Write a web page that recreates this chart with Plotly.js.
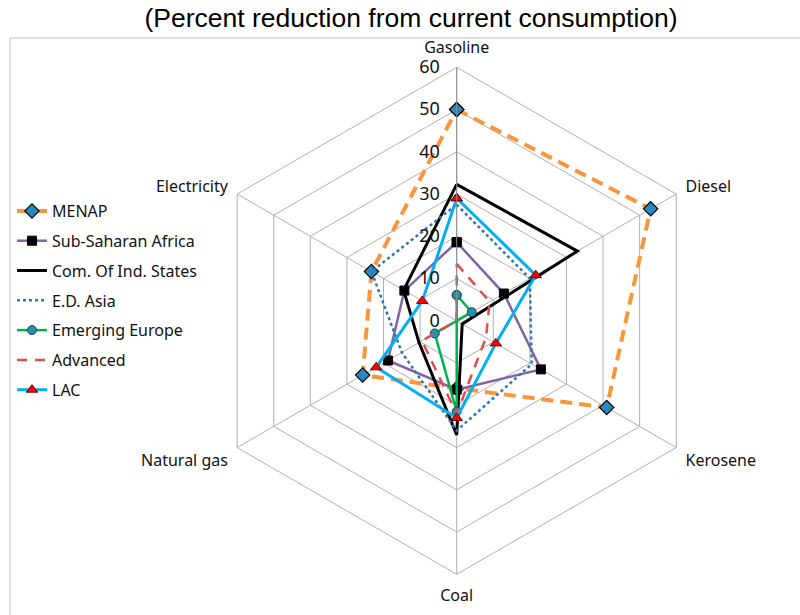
<!DOCTYPE html>
<html>
<head>
<meta charset="utf-8">
<script src="https://cdn.plot.ly/plotly-3.0.1.min.js"></script>
<style>html,body{margin:0;padding:0;background:#fff;}#chart{width:800px;height:615px;}</style>
</head>
<body>
<div id="chart"></div>
<script>
const categories = ['Gasoline', 'Diesel', 'Kerosene', 'Coal', 'Natural gas', 'Electricity'];
const radialTicks = [0, 10, 20, 30, 40, 50, 60];
const menap     = [50, 53, 41, 16, 25.7, 23.3];
const ssa       = [18.6, 12.9, 23, 16.3, 18.8, 14.3];
const cis       = [32.3, 33, 1.5, 27, 10.3, 14.5];
const edAsia    = [27.5, 20, 20.5, 26, 15, 23.3];
const emEurope  = [6.1, 4.1, 0, 21.5, 6, 0];
const advanced  = [13.5, 9, 8, 22, 9.5, 0];
const lac       = [29, 21.6, 10.7, 23, 22, 9.4];
const seriesNames = ['MENAP', 'Sub-Saharan Africa', 'Com. Of Ind. States', 'E.D. Asia', 'Emerging Europe', 'Advanced', 'LAC'];

const W = 800, H = 615;
const cx = 456.7, cy = 320.8, R = 253.5;

function closeLoop(arr) { return arr.concat([arr[0]]); }
const theta = closeLoop(categories);

function trace(name, vals, line, marker, idx) {
  const t = {
    type: 'scatterpolar',
    r: closeLoop(vals),
    theta: theta,
    name: name,
    legendgroup: 'g' + idx,
    mode: marker ? 'lines+markers' : 'lines',
    line: line
  };
  if (marker) t.marker = marker;
  return t;
}

const data = [
  trace(seriesNames[0], menap, {color: '#F7963C', width: 4, dash: '12px,7px'},
        {symbol: 'diamond', size: 11, color: '#2B87C2', line: {color: '#000', width: 1.2}}, 0),
  trace(seriesNames[1], ssa, {color: '#8064A2', width: 2.5},
        {symbol: 'square', size: 9, color: '#000', line: {color: '#000', width: 1}}, 1),
  trace(seriesNames[2], cis, {color: '#000000', width: 3}, null, 2),
  trace(seriesNames[3], edAsia, {color: '#2E75B6', width: 2.5, dash: 'dot'}, null, 3),
  trace(seriesNames[4], emEurope, {color: '#00B050', width: 2.5},
        {symbol: 'circle', size: 9, color: '#1E93AB', line: {color: '#1F3F4F', width: 1}}, 4),
  trace(seriesNames[5], advanced, {color: '#DD4D4D', width: 2.5, dash: '10px,8px'}, null, 5),
  trace(seriesNames[6], lac, {color: '#00B0F0', width: 3},
        {symbol: 'triangle-up', size: 10, color: '#FF0000', line: {color: '#6B0000', width: 1}}, 6)
];

const layout = {
  width: W, height: H,
  margin: {l: 0, r: 0, t: 0, b: 0},
  paper_bgcolor: '#fff',
  showlegend: true,
  title: {
    text: '(Percent reduction from current consumption)',
    x: 411 / W, xanchor: 'center', xref: 'paper',
    y: 1 - 18 / H, yanchor: 'middle', yref: 'paper',
    font: {family: 'Liberation Sans, Arial, sans-serif', size: 26.5, color: '#000'}
  },
  polar: {
    domain: {x: [(cx - R) / W, (cx + R) / W], y: [1 - (cy + R) / H, 1 - (cy - R) / H]},
    bgcolor: '#fff',
    gridshape: 'linear',
    angularaxis: {
      type: 'category',
      categoryarray: categories,
      direction: 'clockwise',
      rotation: 90,
      showline: true,
      linecolor: '#B0B0B0',
      linewidth: 1,
      gridcolor: '#B0B0B0',
      ticks: 'outside',
      ticklen: 7,
      tickcolor: 'rgba(0,0,0,0)',
      tickfont: {family: 'Noto Sans, DejaVu Sans, sans-serif', size: 16, color: '#111'}
    },
    radialaxis: {
      range: [0, 60],
      tickvals: radialTicks,
      angle: 90,
      side: 'counterclockwise',
      showline: true,
      linecolor: '#8C8C8C',
      gridcolor: '#B0B0B0',
      ticks: 'outside',
      ticklen: 10,
      tickcolor: 'rgba(0,0,0,0)',
      tickangle: 90,
      tickfont: {family: 'Noto Sans, DejaVu Sans, sans-serif', size: 18, color: '#111'}
    }
  },
  legend: {
    x: 12 / W, xanchor: 'left',
    y: 1 - 194 / H, yanchor: 'top',
    bgcolor: 'rgba(0,0,0,0)',
    traceorder: 'grouped',
    tracegroupgap: 6,
    font: {family: 'Noto Sans, DejaVu Sans, sans-serif', size: 16, color: '#111'}
  },
  shapes: [{
    type: 'rect', xref: 'paper', yref: 'paper',
    x0: 10 / W, x1: 1.05, y0: -0.05, y1: 1 - 38 / H,
    line: {color: '#BDBDBD', width: 1}, fillcolor: 'rgba(0,0,0,0)', layer: 'below'
  }]
};

Plotly.newPlot('chart', data, layout, {displayModeBar: false, staticPlot: true});
</script>
</body>
</html>
